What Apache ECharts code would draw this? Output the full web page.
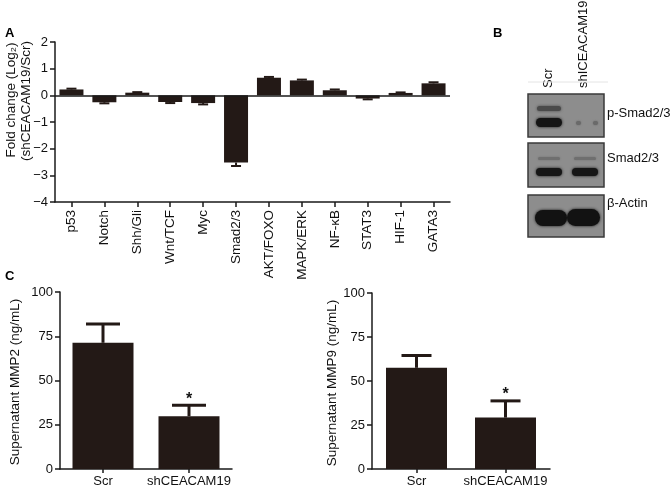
<!DOCTYPE html>
<html><head><meta charset="utf-8">
<script src="https://cdn.jsdelivr.net/npm/echarts@6/dist/echarts.min.js"></script>
<style>html,body{margin:0;padding:0;background:#fff}#c{width:672px;height:488px}</style>
</head><body><div id="c"></div>
<script>
// ---- Panel A data ----
const pathways = ['p53','Notch','Shh/Gli','Wnt/TCF','Myc','Smad2/3','AKT/FOXO','MAPK/ERK','NF-\u03baB','STAT3','HIF-1','GATA3'];
const foldChange = [0.22,-0.26,0.1,-0.25,-0.29,-2.52,0.66,0.56,0.19,-0.12,0.09,0.45];
const foldErr = [0.03,0.04,0.02,0.04,0.05,0.13,0.03,0.03,0.03,0.03,0.02,0.04];
const foldTicks = [-4,-3,-2,-1,0,1,2];
// ---- Panel C data ----
const groups = ['Scr','shCEACAM19'];
const mmp2 = [71.3,29.8];
const mmp2Err = [10.6,6.2];
const mmp9 = [57.5,29.2];
const mmp9Err = [7,9.5];
const signif = ['','*'];
const mmpTicks = [0,25,50,75,100];
// ---- Panel B labels ----
const lanes = ['Scr','shICEACAM19'];
const blotNames = ['p-Smad2/3','Smad2/3','\u03b2-Actin'];

const FONT = "'Liberation Sans', Arial, sans-serif";
const BAR = '#231916';
const AX = '#1a1a1a';

const chart = echarts.init(document.getElementById('c'), null, {renderer:'canvas'});

function errItem(capW, lw, withStar){
  return function(params, api){
    const i = api.value(0), v = api.value(1), e = api.value(2);
    const end = v >= 0 ? v + e : v - e;
    const p0 = api.coord([i, v]);
    const p1 = api.coord([i, end]);
    const ch = [
      {type:'line', shape:{x1:p0[0],y1:p0[1],x2:p1[0],y2:p1[1]}, style:{stroke:BAR,lineWidth:lw}},
      {type:'line', shape:{x1:p1[0]-capW/2,y1:p1[1],x2:p1[0]+capW/2,y2:p1[1]}, style:{stroke:BAR,lineWidth:lw}}
    ];
    if (withStar && withStar[i]) {
      ch.push({type:'text', x:p1[0], y:p1[1]+2, style:{text:withStar[i], fill:'#111', font:'bold 16px '+FONT, align:'center', verticalAlign:'bottom'}});
    }
    return {type:'group', children:ch};
  };
}

const axisLineStyle = {show:true, lineStyle:{color:AX, width:1.5}};
const tickStyle = {show:true, length:5, lineStyle:{color:AX, width:1.5}};
const minusFmt = v => String(v).replace('-', '\u2212');

function band(x, y, w, h, color, blur){
  return {type:'rect', shape:{x:x, y:y, width:w, height:h, r:h/2}, style:{fill:color, shadowBlur:blur, shadowColor:color}};
}

const graphics = [
  {type:'text', x:5, y:27, style:{text:'A', font:'bold 13px '+FONT, fill:'#000'}},
  {type:'text', x:493, y:27, style:{text:'B', font:'bold 13px '+FONT, fill:'#000'}},
  {type:'text', x:5, y:270, style:{text:'C', font:'bold 13px '+FONT, fill:'#000'}},
  {type:'text', x:11, y:100, rotation:Math.PI/2, style:{text:'Fold change (Log\u2082)', font:'13.5px '+FONT, fill:'#111', align:'center', verticalAlign:'middle'}},
  {type:'text', x:26, y:101, rotation:Math.PI/2, style:{text:'(shCEACAM19/Scr)', font:'13.5px '+FONT, fill:'#111', align:'center', verticalAlign:'middle'}},
  {type:'text', x:15, y:382, rotation:Math.PI/2, style:{text:'Supernatant MMP2 (ng/mL)', font:'13.5px '+FONT, fill:'#111', align:'center', verticalAlign:'middle'}},
  {type:'text', x:332, y:383, rotation:Math.PI/2, style:{text:'Supernatant MMP9 (ng/mL)', font:'13.5px '+FONT, fill:'#111', align:'center', verticalAlign:'middle'}},
  // lane labels
  {type:'text', x:548, y:88, rotation:Math.PI/2, style:{text:lanes[0], font:'13px '+FONT, fill:'#111', align:'left', verticalAlign:'middle'}},
  {type:'text', x:583, y:88, rotation:Math.PI/2, style:{text:lanes[1], font:'13px '+FONT, fill:'#111', align:'left', verticalAlign:'middle'}},
  {type:'line', shape:{x1:528,y1:82,x2:608,y2:82}, style:{stroke:'#e4e4e4', lineWidth:1}},
  // blot 1
  {type:'rect', shape:{x:528,y:94,width:76,height:43}, style:{fill:'#8d8d8d', stroke:'#3a3a3a', lineWidth:1.5}},
  band(537,106,24,5,'#4a4a4a',3),
  band(536,118,26,9,'#141414',3),
  band(576,121,5,4,'#6a6a6a',2),
  band(593,121,5,4,'#6a6a6a',2),
  // blot 2
  {type:'rect', shape:{x:528,y:143,width:76,height:44}, style:{fill:'#8d8d8d', stroke:'#3a3a3a', lineWidth:1.5}},
  band(538,157,22,3,'#6f6f6f',2),
  band(574,157,22,3,'#6f6f6f',2),
  band(536,168,26,8,'#161616',3),
  band(572,168,26,8,'#161616',3),
  // blot 3
  {type:'rect', shape:{x:528,y:195,width:76,height:42}, style:{fill:'#8d8d8d', stroke:'#3a3a3a', lineWidth:1.5}},
  band(535,210,32,16,'#121212',3),
  band(567,209,33,17,'#121212',3),
  {type:'text', x:607, y:113, style:{text:blotNames[0], font:'13px '+FONT, fill:'#111', verticalAlign:'middle'}},
  {type:'text', x:607, y:158, style:{text:blotNames[1], font:'13px '+FONT, fill:'#111', verticalAlign:'middle'}},
  {type:'text', x:607, y:203, style:{text:blotNames[2], font:'13px '+FONT, fill:'#111', verticalAlign:'middle'}}
];

const option = {
  backgroundColor:'#fff',
  animation:false,
  textStyle:{fontFamily:FONT},
  grid:[
    {left:55, top:42, width:395, height:160},
    {left:60, top:292, width:172, height:180},
    {left:372, top:293, width:178, height:179}
  ],
  xAxis:[
    {gridIndex:0, type:'category', data:pathways, position:'bottom',
     axisLine:{...axisLineStyle, onZero:false}, axisTick:{...tickStyle, alignWithLabel:true},
     axisLabel:{rotate:90, fontSize:13.5, color:'#111', margin:8, fontFamily:FONT, interval:0}},
    {gridIndex:1, type:'category', data:groups,
     axisLine:axisLineStyle, axisTick:{...tickStyle, length:4, alignWithLabel:true},
     axisLabel:{fontSize:13, color:'#111', margin:6, fontFamily:FONT, interval:0, hideOverlap:false}},
    {gridIndex:2, type:'category', data:groups,
     axisLine:axisLineStyle, axisTick:{...tickStyle, length:4, alignWithLabel:true},
     axisLabel:{fontSize:13, color:'#111', margin:6, fontFamily:FONT, interval:0, hideOverlap:false}}
  ],
  yAxis:[
    {gridIndex:0, type:'value', min:foldTicks[0], max:foldTicks[foldTicks.length-1], interval:1,
     axisLine:axisLineStyle, axisTick:tickStyle, splitLine:{show:false},
     axisLabel:{fontSize:13, color:'#111', margin:7, formatter:minusFmt, fontFamily:FONT}},
    {gridIndex:1, type:'value', min:mmpTicks[0], max:mmpTicks[mmpTicks.length-1], interval:25,
     axisLine:axisLineStyle, axisTick:tickStyle, splitLine:{show:false},
     axisLabel:{fontSize:13, color:'#111', margin:7, fontFamily:FONT}},
    {gridIndex:2, type:'value', min:mmpTicks[0], max:mmpTicks[mmpTicks.length-1], interval:25,
     axisLine:axisLineStyle, axisTick:tickStyle, splitLine:{show:false},
     axisLabel:{fontSize:13, color:'#111', margin:7, fontFamily:FONT}}
  ],
  series:[
    {type:'bar', xAxisIndex:0, yAxisIndex:0, data:foldChange, barWidth:24, itemStyle:{color:BAR},
     markLine:{silent:true, symbol:'none', label:{show:false}, lineStyle:{color:AX, width:1.5, type:'solid'}, data:[{yAxis:0}]}},
    {type:'custom', xAxisIndex:0, yAxisIndex:0, renderItem:errItem(10,2,null), encode:{x:0,y:1},
     data:pathways.map((c,i)=>[i, foldChange[i], foldErr[i]]), z:1},
    {type:'bar', xAxisIndex:1, yAxisIndex:1, data:mmp2, barWidth:61, itemStyle:{color:BAR}},
    {type:'custom', xAxisIndex:1, yAxisIndex:1, renderItem:errItem(34,3,signif), encode:{x:0,y:1},
     data:groups.map((g,i)=>[i, mmp2[i], mmp2Err[i]]), z:1},
    {type:'bar', xAxisIndex:2, yAxisIndex:2, data:mmp9, barWidth:61, itemStyle:{color:BAR}},
    {type:'custom', xAxisIndex:2, yAxisIndex:2, renderItem:errItem(30,3,signif), encode:{x:0,y:1},
     data:groups.map((g,i)=>[i, mmp9[i], mmp9Err[i]]), z:1}
  ],
  graphic:graphics
};
chart.setOption(option);
</script>
</body></html>
